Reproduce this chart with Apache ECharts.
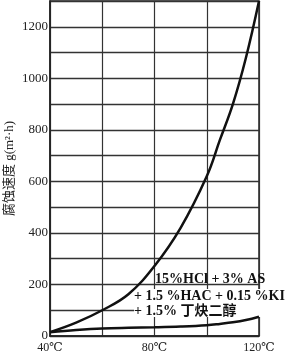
<!DOCTYPE html>
<html>
<head>
<meta charset="utf-8">
<script src="https://cdn.jsdelivr.net/npm/echarts@6/dist/echarts.min.js"></script>
<style>
html,body{margin:0;padding:0;background:#fff;}
#c{width:289px;height:357px;}
</style>
</head>
<body>
<div id="c"></div>
<script>
// Data
var temperatures = [40, 50, 60, 70, 80, 90, 100, 105, 110, 115, 120];
var upperCurve   = [15, 52, 100, 162, 272, 420, 620, 760, 900, 1080, 1300];
var lowerCurve   = [15, 23, 29, 32, 34, 37, 42, 47, 53, 62, 75];
var xTickLabels  = {40: '40℃', 80: '80℃', 120: '120℃'};
var yTickLabels  = [0, 200, 400, 600, 800, 1000, 1200];
var yAxisTitle   = '腐蚀速度 g(m²·h)';
var annotation   = ['15%HCl + 3% AS', '+ 1.5 %HAC + 0.15 %KI', '+ 1.5% 丁炔二醇'];

function pairs(xs, ys){ return xs.map(function(x,i){ return [x, ys[i]]; }); }

var serif = '"Liberation Serif","DejaVu Serif","Noto Sans CJK SC",serif';
var chart = echarts.init(document.getElementById('c'));
chart.setOption({
  animation: false,
  backgroundColor: '#fff',
  grid: {left: 50, right: 30, top: 1, bottom: 21, containLabel: false, outerBoundsMode: 'none',
         show: true, borderColor: '#222', borderWidth: 1.5},
  xAxis: {
    type: 'value', min: 40, max: 120, interval: 20,
    axisLine: {show: true, lineStyle: {color: '#222', width: 1.5}},
    axisTick: {show: false},
    splitLine: {show: true, lineStyle: {color: '#333', width: 1.2}},
    axisLabel: {
      color: '#222', fontFamily: serif, fontSize: 12, margin: 6,
      formatter: function(v){ return xTickLabels[v] || ''; }
    }
  },
  yAxis: {
    type: 'value', min: 0, max: 1300, interval: 100,
    name: yAxisTitle, nameLocation: 'middle', nameGap: 34, nameRotate: 90, nameMoveOverlap: false,
    nameTextStyle: {color: '#222', fontFamily: serif, fontSize: 13},
    axisLine: {show: true, lineStyle: {color: '#222', width: 1.5}},
    axisTick: {show: false},
    splitLine: {show: true, lineStyle: {color: '#333', width: 1.3}},
    axisLabel: {
      color: '#222', fontFamily: serif, fontSize: 13, margin: 2,
      formatter: function(v){ return yTickLabels.indexOf(v) >= 0 ? String(v) : ''; }
    }
  },
  graphic: [
    {type: 'rect', z: 1, shape: {x: 134, y: 289, width: 155, height: 28}, style: {fill: '#fff'}},
    {type: 'text', z: 3, left: 155, top: 272, style: {text: annotation[0], fill: '#111', font: 'bold 14px ' + serif}},
    {type: 'text', z: 3, left: 134, top: 289, style: {text: annotation[1], fill: '#111', font: 'bold 14px ' + serif}},
    {type: 'text', z: 3, left: 134, top: 304, style: {text: annotation[2], fill: '#111', font: 'bold 14px ' + serif}}
  ],
  series: [
    {type: 'line', data: pairs(temperatures, upperCurve), smooth: 0.4, showSymbol: false, z: 2,
     lineStyle: {color: '#111', width: 2.5}},
    {type: 'line', data: pairs(temperatures, lowerCurve), smooth: 0.4, showSymbol: false, z: 2,
     lineStyle: {color: '#111', width: 2.5}}
  ]
});
</script>
</body>
</html>
